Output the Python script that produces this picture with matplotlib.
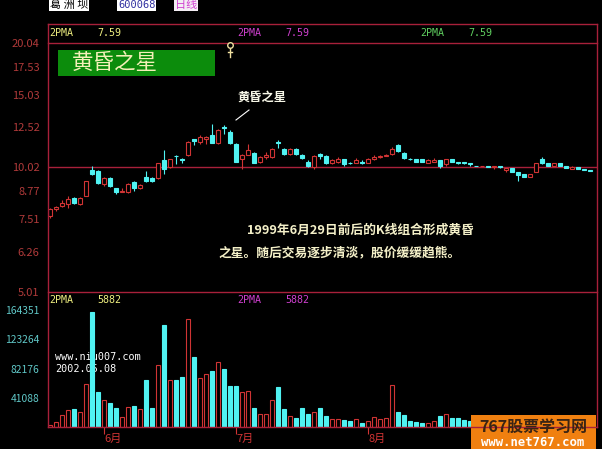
import matplotlib
matplotlib.use('Agg')
import matplotlib.pyplot as plt
from matplotlib.ticker import NullLocator, FixedLocator, FixedFormatter

plt.rcParams['font.family'] = ['Noto Sans CJK SC', 'DejaVu Sans']

# daily candles, 葛洲坝 600068
opens = [7.64, 7.94, 8.08, 8.17, 8.44, 8.17, 8.53, 9.86, 9.80, 9.12,
         9.43, 8.92, 8.72, 8.72, 9.22, 8.92, 9.53, 9.43, 9.43, 10.42,
         10.02, 10.71, 10.53, 10.77, 11.76, 11.57, 11.76, 12.02, 11.50, 12.56,
         12.22, 11.44, 10.48, 10.77, 10.89, 10.36, 10.65, 10.65, 11.57, 11.13,
         10.83, 11.13, 10.77, 10.36, 10.02, 10.83, 10.71, 10.25, 10.36, 10.48,
         10.30, 10.30, 10.36, 10.30, 10.53, 10.65, 10.71, 10.83, 11.38, 10.89,
         10.53, 10.48, 10.48, 10.30, 10.36, 10.42, 10.19, 10.48, 10.36, 10.36,
         10.30, 10.13, 10.08, 10.13, 10.02, 10.08, 9.86, 9.97, 9.75, 9.64,
         9.48, 9.75, 10.53, 10.30, 10.13, 10.25, 10.08, 9.91, 10.02, 9.91, 9.86]
closes = [7.94, 8.03, 8.21, 8.39, 8.21, 8.44, 9.32, 9.64, 9.17, 9.43,
          9.02, 8.72, 8.77, 9.12, 8.92, 9.07, 9.32, 9.27, 10.25, 9.91,
          10.48, 10.68, 10.42, 11.57, 11.63, 11.89, 11.89, 11.50, 12.35, 12.49,
          11.50, 10.36, 10.77, 11.07, 10.30, 10.65, 10.77, 11.13, 11.50, 10.83,
          11.13, 10.83, 10.59, 10.08, 10.71, 10.71, 10.25, 10.42, 10.48, 10.19,
          10.25, 10.42, 10.30, 10.53, 10.65, 10.71, 10.77, 11.13, 11.01, 10.59,
          10.48, 10.36, 10.36, 10.42, 10.42, 10.08, 10.48, 10.36, 10.30, 10.30,
          10.19, 10.10, 10.13, 10.02, 10.13, 10.02, 9.97, 9.75, 9.59, 9.53,
          9.64, 10.30, 10.30, 10.13, 10.25, 10.08, 9.97, 10.02, 9.91, 9.86, 9.80]
highs = [7.99, 8.08, 8.35, 8.53, 8.49, 8.49, 9.32, 10.08, 9.86, 9.53,
         9.48, 8.92, 8.92, 9.17, 9.32, 9.12, 9.80, 9.48, 10.30, 11.07,
         10.53, 10.77, 10.59, 11.63, 11.76, 12.02, 11.95, 12.78, 12.42, 12.71,
         12.35, 11.50, 10.83, 11.44, 10.95, 10.71, 10.95, 11.19, 11.69, 11.19,
         11.19, 11.19, 10.83, 10.42, 10.77, 10.89, 10.77, 10.48, 10.65, 10.53,
         10.36, 10.59, 10.42, 10.59, 10.77, 10.77, 10.83, 11.25, 11.44, 10.95,
         10.59, 10.53, 10.48, 10.53, 10.59, 10.42, 10.48, 10.53, 10.36, 10.36,
         10.30, 10.13, 10.13, 10.13, 10.13, 10.13, 9.97, 9.97, 9.75, 9.69,
         9.64, 10.30, 10.65, 10.30, 10.25, 10.30, 10.08, 10.13, 10.02, 9.91, 9.86]
lows = [7.56, 7.86, 8.03, 7.99, 8.17, 8.12, 8.53, 9.59, 9.12, 9.02,
        8.97, 8.63, 8.72, 8.68, 8.77, 8.87, 9.22, 9.22, 9.38, 9.69,
        9.97, 10.19, 10.30, 10.71, 11.38, 11.44, 11.44, 11.50, 11.44, 12.09,
        11.44, 10.36, 9.91, 10.77, 10.25, 10.30, 10.53, 10.59, 11.19, 10.77,
        10.77, 10.77, 10.53, 10.02, 9.91, 10.53, 10.19, 10.19, 10.25, 10.13,
        10.19, 10.25, 10.19, 10.25, 10.42, 10.59, 10.71, 10.77, 10.95, 10.53,
        10.42, 10.36, 10.36, 10.25, 10.36, 9.97, 10.08, 10.36, 10.19, 10.19,
        10.13, 10.08, 10.08, 10.02, 9.91, 9.97, 9.75, 9.75, 9.32, 9.53,
        9.48, 9.75, 10.19, 10.13, 10.13, 10.08, 9.97, 9.91, 9.91, 9.86, 9.80]
volumes = [2300, 6900, 17100, 24100, 25500, 20800, 60200, 161600, 49100, 38000,
           33800, 27300, 14400, 28200, 29600, 25500, 65700, 27300, 86600, 143500,
           65700, 65700, 69900, 151900, 99100, 68500, 74100, 78200, 92100, 81000,
           57400, 57400, 49100, 50500, 26900, 18500, 18500, 38000, 56000, 25500,
           15700, 13000, 27300, 18500, 21300, 26900, 15700, 11100, 11100, 10200,
           8800, 11600, 6000, 8800, 14400, 11100, 13000, 58800, 21300, 17100,
           8800, 7400, 6000, 6000, 8800, 15700, 18500, 13000, 13000, 10200,
           8800, 7000, 5500, 8000, 9000, 6500, 9500, 10000, 12000, 8000,
           7500, 15000, 11000, 8000, 6500, 7000, 6000, 7500, 6000, 5000, 5000]

price_ticks = [5.01, 6.26, 7.51, 8.77, 10.02, 12.52, 15.03, 17.53, 20.04]
vol_ticks = [41088, 82176, 123264, 164351]
month_idx = [9, 31, 53]
month_labels = ['6月', '7月', '8月']

W, H = 602, 449
RED = '#d03434'
CYAN = '#50f2f2'
FRAME = '#a8203a'
MONO = 'DejaVu Sans Mono'


def rect(x0, y0, x1, y1):
    return [x0 / W, 1 - y1 / H, (x1 - x0) / W, (y1 - y0) / H]


fig = plt.figure(figsize=(W / 100, H / 100), dpi=100, facecolor='black')

x = list(range(len(opens)))
up = [c >= o for o, c in zip(opens, closes)]
cols = [RED if u else CYAN for u in up]
faces = ['black' if u else CYAN for u in up]

# price panel
axp = fig.add_axes(rect(48, 43, 597, 292))
axp.set_facecolor('none')
axp.set_yscale('log')
axp.set_ylim(5.01, 20.04)
axp.set_xlim(-0.35, 91.15)
axp.axhline(10.02, color=FRAME, lw=1, zorder=0.5)
axp.vlines(x, lows, highs, colors=cols, lw=0.8, zorder=1)
axp.bar(x, [c - o for o, c in zip(opens, closes)], bottom=opens, width=0.7,
        color=faces, edgecolor=cols, linewidth=0.8, zorder=2)
axp.yaxis.set_major_locator(FixedLocator(price_ticks))
axp.yaxis.set_major_formatter(FixedFormatter([f'{v:.2f}' for v in price_ticks]))
axp.yaxis.set_minor_locator(NullLocator())
axp.tick_params(axis='y', length=0, pad=6, labelsize=8, labelcolor='#b03a3a')
axp.set_xticks([])
for s in axp.spines.values():
    s.set_visible(False)

# volume panel
axv = fig.add_axes(rect(48, 292, 597, 427))
axv.set_facecolor('none')
axv.set_ylim(0, 190000)
axv.set_xlim(-0.35, 91.15)
axv.bar(x, volumes, width=0.7, color=faces, edgecolor=cols, linewidth=0.8, zorder=2)
axv.set_yticks(vol_ticks)
axv.set_yticklabels([str(v) for v in vol_ticks])
axv.tick_params(axis='y', length=0, pad=6, labelsize=7.4, labelcolor='#60c8c8')
axv.set_xticks(month_idx)
axv.set_xticklabels(month_labels, ha='left')
axv.tick_params(axis='x', direction='out', length=5, width=0.8, color=RED,
                labelcolor=RED, labelsize=8, pad=0)
for s in axv.spines.values():
    s.set_visible(False)

# overlay in pixel coordinates for frame and text
ov = fig.add_axes([0, 0, 1, 1])
ov.set_xlim(0, W)
ov.set_ylim(H, 0)
ov.axis('off')
ov.patch.set_visible(False)

for yy in [24, 43, 292, 427]:
    ov.plot([48, 597], [yy, yy], color=FRAME, lw=1)
for xx in [48, 597]:
    ov.plot([xx, xx], [24, 427], color=FRAME, lw=1)

# title strip
ov.text(50, 5, '葛 洲 坝', color='black', fontsize=8, va='center', ha='left',
        bbox=dict(facecolor='white', edgecolor='none', pad=0.5))
ov.text(118, 5, '600068', color='#3030a0', fontsize=7.5, family=MONO, va='center',
        ha='left', bbox=dict(facecolor='white', edgecolor='none', pad=0.5))
ov.text(175, 5, '日线', color='#d040d0', fontsize=8, va='center', ha='left',
        bbox=dict(facecolor='#f4eef4', edgecolor='none', pad=0.5))

# indicator headers
hdr = dict(fontsize=7.2, family=MONO, va='center', ha='left')
ov.text(49, 33, '2PMA', color='#f0f080', **hdr)
ov.text(97, 33, '7.59', color='#f0f080', **hdr)
ov.text(237, 33, '2PMA', color='#d040d0', **hdr)
ov.text(285, 33, '7.59', color='#d040d0', **hdr)
ov.text(420, 33, '2PMA', color='#60d060', **hdr)
ov.text(468, 33, '7.59', color='#60d060', **hdr)
ov.text(49, 300, '2PMA', color='#f0f080', **hdr)
ov.text(97, 300, '5882', color='#f0f080', **hdr)
ov.text(237, 300, '2PMA', color='#d040d0', **hdr)
ov.text(285, 300, '5882', color='#d040d0', **hdr)

# green label box
ov.add_patch(plt.Rectangle((58, 50), 157, 26, facecolor='#0c8c0c', edgecolor='none'))
ov.text(72, 63, '黄昏之星', color='#f4f0b8', fontsize=15.5, va='center', ha='left')

# marker near the top
ov.plot([230, 230], [46, 57], color='#f0e0a0', lw=1)
ov.plot([228, 232], [52, 52], color='#f0e0a0', lw=1)
ov.plot([230], [45], marker='o', ms=4, mfc='black', mec='#f0e0a0', mew=1)

# annotation of the evening star
ov.text(237, 97, '黄昏之星', color='#f8f8e8', fontsize=8.8, fontweight='bold',
        va='center', ha='left')
ov.plot([236, 249], [120, 110], color='white', lw=0.8)

# comment text
ov.text(247, 230, '1999年6月29日前后的K线组合形成黄昏', color='#f4f0c8',
        fontsize=9.2, fontweight='bold', va='center', ha='left')
ov.text(218, 253, '之星。随后交易逐步清淡，股价缓缓趋熊。', color='#f4f0c8',
        fontsize=9.2, fontweight='bold', va='center', ha='left')

# site stamp behind the volume bars
axv.text(55, 357, 'www.niu007.com', color='white', fontsize=7.3, family=MONO,
         va='center', ha='left', transform=ov.transData, zorder=0.5, clip_on=False)
axv.text(55, 369, '2002.05.08', color='white', fontsize=7.3, family=MONO,
         va='center', ha='left', transform=ov.transData, zorder=0.5, clip_on=False)

# watermark
ov.add_patch(plt.Rectangle((471, 415), 125, 34, facecolor='#f08010', edgecolor='none'))
ov.text(533, 427, '767股票学习网', color='#3a2414', fontsize=11.5, fontweight='bold',
        va='center', ha='center')
ov.text(533, 442, 'www.net767.com', color='white', fontsize=8.8, family=MONO,
        fontweight='bold', va='center', ha='center')

fig.savefig('out.png', dpi=100, facecolor='black')
